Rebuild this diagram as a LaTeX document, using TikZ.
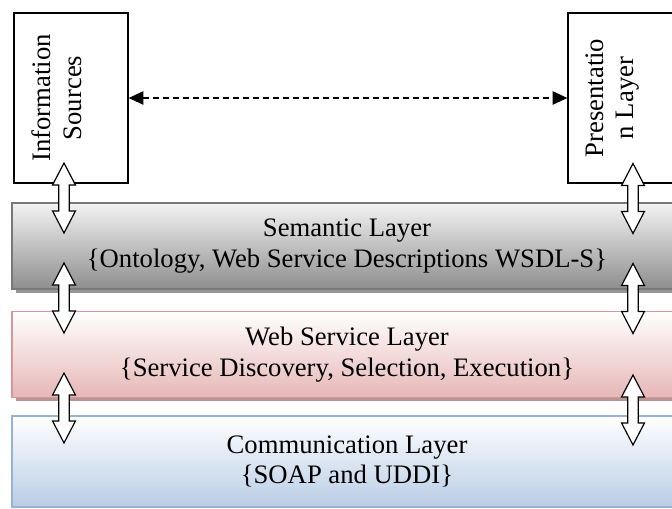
\documentclass[tikz,border=0pt]{standalone}
\usepackage{fontspec}
\setmainfont{Liberation Serif}
\usetikzlibrary{positioning}
\usetikzlibrary{arrows.meta}
\usetikzlibrary{shapes.arrows}
\usetikzlibrary{shadows}
\usetikzlibrary{calc}

\definecolor{semtop}{RGB}{243,243,243}
\definecolor{sembot}{RGB}{142,142,142}
\definecolor{semline}{RGB}{120,120,120}
\definecolor{semshadow}{RGB}{150,150,150}
\definecolor{webbot}{RGB}{230,183,182}
\definecolor{webline}{RGB}{217,150,148}
\definecolor{webshadow}{RGB}{185,150,150}
\definecolor{combot}{RGB}{185,205,229}
\definecolor{comline}{RGB}{149,179,215}

\tikzset{
  sidebox/.style={draw, line width=1pt, minimum width=85.5pt, minimum height=127.5pt, inner sep=0pt},
  sidetext/.style={rotate=90, align=center, inner sep=0pt, font=\fontsize{20}{23}\selectfont},
  layer/.style={line width=1.2pt, minimum width=502.5pt, minimum height=64.5pt, align=center,
                font=\fontsize{20}{23}\selectfont},
  blockarrow/.style={double arrow, draw, fill=white, line width=0.9pt, rotate=90,
                inner xsep=0pt, inner ysep=3.5pt, minimum height=52.5pt, minimum width=16.3pt,
                double arrow head extend=4.65pt, double arrow tip angle=55},
}

\begin{document}
\begin{tikzpicture}[x=0.75pt,y=-0.75pt]
\path[use as bounding box, clip] (0,0) rectangle (672,509);

% top boxes
\node[sidebox] (info) at (71,98) {};
\node[sidebox] (pres) at (625,98) {};
\node[sidetext, anchor=north] (infotext) at ([xshift=13.5pt]info.west) {Information\\Sources};
\node[sidetext, anchor=north] (prestext) at ([xshift=13.5pt]pres.west) {Presentatio\\n Layer};
\draw[line width=1pt, dash pattern=on 4.5pt off 3pt,
      {Triangle[length=11pt,width=10pt]}-{Triangle[length=11pt,width=10pt]}] (info.east) -- (pres.west);

% layers
\node[layer, draw=semline, top color=semtop, bottom color=sembot,
      drop shadow={shadow xshift=3pt, shadow yshift=-3pt, fill=semshadow, opacity=1}]
      (sem) at (347,246) {Semantic Layer\\\{Ontology, Web Service Descriptions WSDL-S\}};
\node[layer, draw=webline, top color=white, bottom color=webbot,
      drop shadow={shadow xshift=3pt, shadow yshift=-3pt, fill=webshadow, opacity=1}]
      (web) at (347,354.5) {Web Service Layer\\\{Service Discovery, Selection, Execution\}};
\node[layer, draw=comline, top color=white, bottom color=combot, minimum height=68.25pt]
      (com) at (347,461.5) {Communication Layer\\\{SOAP and UDDI\}};

% block arrows
\node[blockarrow] (la1) at (64,198) {};
\node[blockarrow] (la2) at (64,298) {};
\node[blockarrow] (la3) at (64,408) {};
\node[blockarrow] (ra1) at (633,198.5) {};
\node[blockarrow] (ra2) at (633,298.5) {};
\node[blockarrow] (ra3) at (633,410) {};
\end{tikzpicture}
\end{document}
